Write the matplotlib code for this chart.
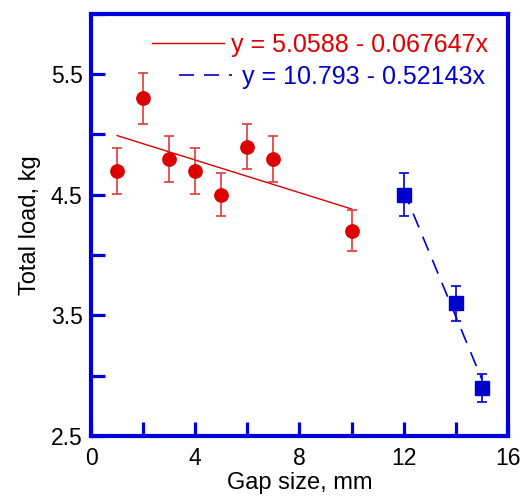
import numpy as np
import matplotlib
matplotlib.use("Agg")
import matplotlib.pyplot as plt
from matplotlib.ticker import MultipleLocator, FixedLocator

plt.rcParams['font.family'] = ['Liberation Sans', 'DejaVu Sans']

# Data
x_red = [1, 2, 3, 4, 5, 6, 7, 10]
y_red = [4.7, 5.3, 4.8, 4.7, 4.5, 4.9, 4.8, 4.2]
e_red = [0.19, 0.21, 0.19, 0.19, 0.18, 0.19, 0.19, 0.17]

x_blue = [12, 14, 15]
y_blue = [4.5, 3.6, 2.9]
e_blue = [0.18, 0.145, 0.115]

xticks = [0, 4, 8, 12, 16]
yticks = [2.5, 3.5, 4.5, 5.5]

red = '#dd0000'
red_err = '#e23a3a'
blue = '#0000cc'
frame_blue = '#0000dd'

fig = plt.figure(figsize=(5.23, 4.96), dpi=100)
ax = fig.add_axes([0.174, 0.121, 0.797, 0.851])

# fits
pr = np.polyfit(x_red, y_red, 1)
pb = np.polyfit(x_blue, y_blue, 1)
xr = np.array([min(x_red), max(x_red)])
xb = np.array([min(x_blue), max(x_blue)])
lr, = ax.plot(xr, np.polyval(pr, xr), color=red, lw=1.0, zorder=2)
lb, = ax.plot(xb, np.polyval(pb, xb), color=blue, lw=1.2, dashes=(9, 6), zorder=2)

ax.errorbar(x_red, y_red, yerr=e_red, fmt='o', color=red, ecolor=red_err,
            elinewidth=1.2, capsize=3.6, capthick=1.2, markersize=9.6, zorder=3)
ax.errorbar(x_blue, y_blue, yerr=e_blue, fmt='s', color=blue, ecolor=blue,
            elinewidth=1.2, capsize=3.6, capthick=1.2, markersize=10.5, zorder=3)

ax.set_xlim(0, 16)
ax.set_ylim(2.5, 6.0)
ax.xaxis.set_major_locator(FixedLocator(xticks))
ax.xaxis.set_minor_locator(MultipleLocator(2))
ax.yaxis.set_major_locator(FixedLocator(yticks))
ax.yaxis.set_minor_locator(MultipleLocator(0.5))
ax.tick_params(which='both', direction='in', length=10, width=2.3, color=frame_blue,
               labelsize=16.5, top=False, right=False)
ax.tick_params(axis='x', which='both', pad=8)
ax.tick_params(axis='y', which='both', pad=6)
for s in ax.spines.values():
    s.set_color(frame_blue)
    s.set_linewidth(3)

ax.set_xlabel('Gap size, mm', fontsize=17, labelpad=1.5)
ax.set_ylabel('Total load, kg', fontsize=17, labelpad=7)

labr = 'y = %.4f - %.6fx' % (pr[1], -pr[0])
labb = 'y = %.3f - %.5fx' % (pb[1], -pb[0])
leg1 = ax.legend([lr], [labr], loc='upper right', frameon=False,
                 fontsize=18, handlelength=2.9, handletextpad=0.28,
                 borderaxespad=0.0, bbox_to_anchor=(0.977, 0.978))
leg1.get_texts()[0].set_color(red)
ax.add_artist(leg1)
leg2 = ax.legend([lb], [labb], loc='upper right', frameon=False,
                 fontsize=18, handlelength=2.15, handletextpad=0.4,
                 borderaxespad=0.0, bbox_to_anchor=(0.97, 0.903))
leg2.get_texts()[0].set_color(blue)

fig.savefig('out.png', dpi=100)
